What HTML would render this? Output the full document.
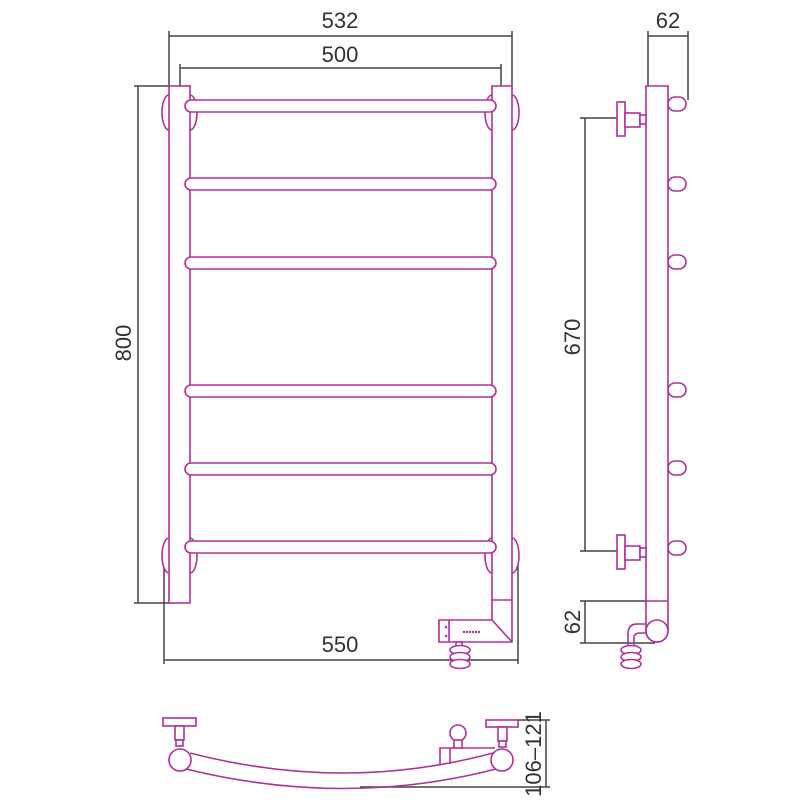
<!DOCTYPE html>
<html><head><meta charset="utf-8"><style>
html,body{margin:0;padding:0;background:#fff;}
svg{display:block}
text{font-family:"Liberation Sans",sans-serif;fill:#333;font-size:22px}
</style></head><body>
<svg width="800" height="800" viewBox="0 0 800 800" xmlns="http://www.w3.org/2000/svg">
<g fill="none" stroke="#444" stroke-width="1.5">
<line x1="169" y1="36" x2="512" y2="36"/><line x1="169" y1="31" x2="169" y2="86"/><line x1="512" y1="31" x2="512" y2="86"/>
<line x1="180" y1="68" x2="501" y2="68"/><line x1="180" y1="64" x2="180" y2="86"/><line x1="501" y1="64" x2="501" y2="86"/>
<line x1="138" y1="86" x2="138" y2="603"/><line x1="134" y1="86" x2="169" y2="86"/><line x1="134" y1="603" x2="169" y2="603"/>
<line x1="164" y1="660" x2="518" y2="660"/><line x1="164" y1="555" x2="164" y2="664"/><line x1="518" y1="555" x2="518" y2="664"/>
<line x1="648" y1="36" x2="688" y2="36"/><line x1="648" y1="31" x2="648" y2="86"/><line x1="688" y1="31" x2="688" y2="100"/>
<line x1="585" y1="118" x2="585" y2="551"/><line x1="580" y1="118" x2="617" y2="118"/><line x1="580" y1="551" x2="617" y2="551"/>
<line x1="585" y1="601" x2="585" y2="643"/><line x1="580" y1="601" x2="646" y2="601"/><line x1="580" y1="643" x2="655" y2="643"/>
<line x1="546" y1="720" x2="546" y2="787"/><line x1="518" y1="720" x2="550" y2="720"/><line x1="360" y1="787" x2="550" y2="787"/>
</g>
<text x="340" y="28" text-anchor="middle">532</text>
<text x="340" y="62" text-anchor="middle">500</text>
<text x="340" y="652" text-anchor="middle">550</text>
<text x="668" y="28" text-anchor="middle">62</text>
<text transform="translate(131,343) rotate(-90)" text-anchor="middle">800</text>
<text transform="translate(580,337) rotate(-90)" text-anchor="middle">670</text>
<text transform="translate(580,622) rotate(-90)" text-anchor="middle">62</text>
<text transform="translate(541,754) rotate(-90)" text-anchor="middle" font-size="19">106–121</text>

<g fill="#fff" stroke="#b0309b" stroke-width="1.6">
<path d="M169 95 A7 17.5 0 0 0 169 130"/><path d="M190 95 A7 17.5 0 0 1 190 130"/>
<path d="M492 95 A7 17.5 0 0 0 492 130"/><path d="M512 95 A7 17.5 0 0 1 512 130"/>
<path d="M169 538 A7 17.5 0 0 0 169 573"/><path d="M190 538 A7 17.5 0 0 1 190 573"/>
<path d="M492 538 A7 17.5 0 0 0 492 573"/><path d="M512 538 A7 17.5 0 0 1 512 573"/>
<rect x="169" y="86" width="21" height="517"/>
<path d="M492 86 H512 V642 H439 V620 H492 Z"/>
<line x1="492" y1="600" x2="512" y2="600"/>
<line x1="492" y1="620" x2="512" y2="642"/>
<line x1="449" y1="620" x2="449" y2="642"/>
<rect x="185" y="100" width="311" height="12" rx="6"/>
<rect x="185" y="178" width="311" height="12" rx="6"/>
<rect x="185" y="257" width="311" height="12" rx="6"/>
<rect x="185" y="385" width="311" height="12" rx="6"/>
<rect x="185" y="463" width="311" height="12" rx="6"/>
<rect x="185" y="541" width="311" height="12" rx="6"/>
<rect x="456" y="642" width="6" height="5"/>
<ellipse cx="460" cy="650" rx="10" ry="4.5"/><ellipse cx="460" cy="657" rx="10" ry="4.5"/><ellipse cx="460" cy="664" rx="10" ry="4.5"/>

<rect x="668" y="97" width="18" height="14" rx="7"/>
<rect x="668" y="177" width="18" height="14" rx="7"/>
<rect x="668" y="255" width="18" height="14" rx="7"/>
<rect x="668" y="383" width="18" height="14" rx="7"/>
<rect x="668" y="461" width="18" height="14" rx="7"/>
<rect x="668" y="541" width="18" height="14" rx="7"/>
<path d="M646 86 H668 V631 A11 11 0 0 1 646 631 Z"/>
<line x1="646" y1="601" x2="668" y2="601"/>
<circle cx="657" cy="631" r="11"/>
<rect x="617" y="102" width="8" height="34"/><rect x="625" y="113" width="15" height="14"/><rect x="640" y="115" width="6" height="9"/>
<rect x="617" y="535" width="8" height="34"/><rect x="625" y="546" width="15" height="14"/><rect x="640" y="548" width="6" height="9"/>
<path fill="none" d="M646 624 H637 Q628 624 628 634 V645 M646 633 H640 Q634 633 634 638 V645"/>
<ellipse cx="631" cy="650" rx="10" ry="4.5"/><ellipse cx="631" cy="657" rx="10" ry="4.5"/><ellipse cx="631" cy="664" rx="10" ry="4.5"/>

<path fill="none" d="M190 753 Q345 793 493 753"/>
<path fill="none" d="M186 769 Q345 808 496 769"/>
<path fill="none" d="M440 764 V748 H495 M450 748 V764"/>
<circle cx="458" cy="733" r="8"/><rect x="454" y="740" width="8" height="8"/>
<rect x="163" y="718" width="33" height="8"/><rect x="175" y="726" width="9" height="14"/><rect x="176" y="740" width="7" height="6"/>
<circle cx="180" cy="760" r="11"/>
<rect x="486" y="720" width="32" height="7"/><rect x="498" y="727" width="9" height="14"/><rect x="499" y="741" width="7" height="6"/>
<circle cx="502" cy="760" r="11"/>
</g>
<g fill="#b0309b">
<circle cx="446" cy="627" r="1.3"/><circle cx="446" cy="636" r="1.3"/>
<circle cx="464" cy="632" r="1.2"/><circle cx="467" cy="632" r="1.2"/><circle cx="470" cy="632" r="1.2"/><circle cx="473" cy="632" r="1.2"/><circle cx="476" cy="632" r="1.2"/><circle cx="479" cy="632" r="1.2"/>
</g>
</svg>
</body></html>
